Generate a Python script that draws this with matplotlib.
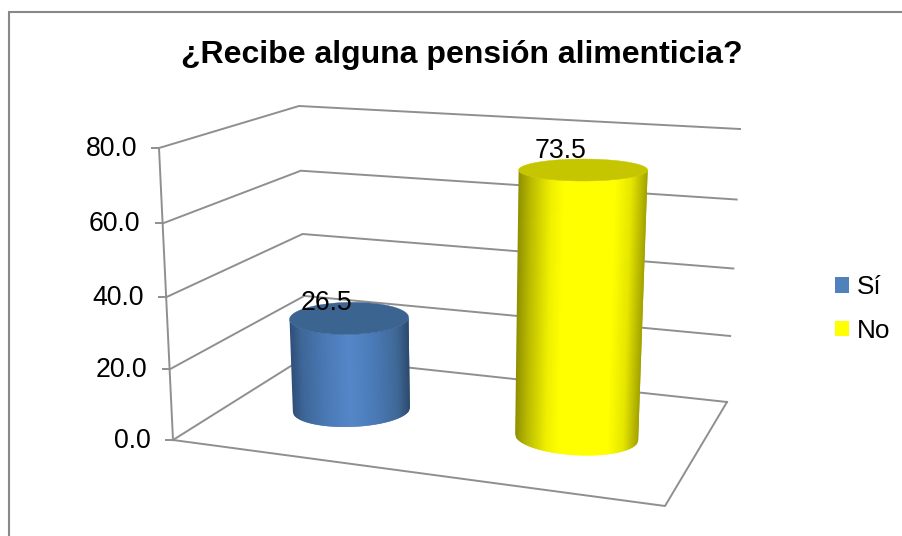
import numpy as np
import matplotlib
matplotlib.use("Agg")
import matplotlib.pyplot as plt
from matplotlib.collections import PolyCollection
from matplotlib.colors import to_rgb
from matplotlib.patches import Patch, Polygon

# ---- data ----
title = "¿Recibe alguna pensión alimenticia?"
categories = ["Sí", "No"]
values = [26.5, 73.5]
value_ticks = [0, 20, 40, 60, 80]
tick_labels = ["0.0", "20.0", "40.0", "60.0", "80.0"]

# ---- style ----
plt.rcParams["font.family"] = ["Liberation Sans", "DejaVu Sans"]
GRID = "#8f8f8f"
LEGEND_COLORS = ["#4f81bd", "#ffff00"]
TOP_COLORS = ["#3c6491", "#c6c600"]
SHADE_Q = [[-1, -0.8, -0.4, 0.0, 0.4, 0.8, 1],
           [-1, -0.8, -0.5, -0.3, 0.5, 0.75, 1]]
SHADES = [["#2f4f78", "#3e6799", "#4a7ab6", "#5587c8", "#4a7bb7", "#3f6897", "#2d4a6c"],
          ["#8f8f00", "#bcbc00", "#efef00", "#ffff00", "#ffff00", "#e6e600", "#a2a200"]]

# ---- projection of the 3D plot box onto the page (pixels) ----
FL0, FR0, BR0, BL0 = map(np.array, ([173, 440], [665, 506], [727, 402], [306, 356.5]))
FL_T, BR_T, BL_T = map(np.array, ([159, 148], [740, 129], [299, 106]))
VMAX = value_ticks[-1]
PERSP = 1.045


def vscale(v):
    t = v / VMAX
    return t / (t + (1 - t) * PERSP)


def edge(bottom, top, v):
    return bottom + (top - bottom) * vscale(v)


def floor(u, d):
    left = FL0 + (BL0 - FL0) * d
    right = FR0 + (BR0 - FR0) * d
    return left + (right - left) * u


fig = plt.figure(figsize=(9.03, 5.36), dpi=100)
ax = fig.add_axes([0, 0, 1, 1])
ax.set_xlim(0, 903)
ax.set_ylim(536, 0)
ax.axis("off")

# outer chart frame
ax.plot([9.5, 9.5, 903], [536, 12, 12], color="#888888", lw=1.5, zorder=1,
        solid_joinstyle="miter")

ax.text(461.5, 55, title, ha="center", va="center", fontsize=23,
        fontweight="bold", color="black")

# walls, gridlines, floor
for v, lab in zip(value_ticks, tick_labels):
    a, b, c = edge(FL0, FL_T, v), edge(BL0, BL_T, v), edge(BR0, BR_T, v)
    ax.plot([a[0], b[0], c[0]], [a[1], b[1], c[1]], color=GRID, lw=1.4, zorder=2)
    ax.plot([a[0] - 7, a[0]], [a[1], a[1]], color=GRID, lw=1.4, zorder=2)
    ax.text(a[0] - 22, a[1] + 1, lab, ha="right", va="center", fontsize=19.2,
            color="black", zorder=6)
ax.plot([FL0[0], FL_T[0]], [FL0[1], FL_T[1]], color=GRID, lw=1.4, zorder=2)
ax.plot([FL0[0], FR0[0], BR0[0]], [FL0[1], FR0[1], BR0[1]], color=GRID, lw=1.4, zorder=2)

# cylinders
bar_u = [0.24, 0.735]
bar_d = 0.52
top_a, base_a = [59.5, 64.5], [58.5, 61.5]
top_b, base_b = [16, 11], [17, 18]
top_tilt, base_tilt = [-1, 0], [-2, 3]
label_dx, label_dy = [-23, -23], [-15, -19]
thetas = np.arccos(np.linspace(-1, 1, 130))

for i, v in enumerate(values):
    base = floor(bar_u[i], bar_d)
    s = vscale(v)
    height = 284.5 + (bar_u[i] - 0.24) * 15
    lean = (bar_u[i] - 0.49) * 29
    top = base + np.array([lean * s, -height * s])

    def ring(c, a, b, tilt, th):
        return np.column_stack([c[0] + a * np.cos(th),
                                c[1] + b * np.sin(th) + tilt * np.cos(th)])

    tp = ring(top, top_a[i], top_b[i], top_tilt[i], thetas)
    bt = ring(base, base_a[i], base_b[i], base_tilt[i], thetas)
    polys, cols = [], []
    rgb = np.array([to_rgb(c) for c in SHADES[i]])
    # each band overlaps the next two, which hides seams and keeps the outline smooth
    for k in range(len(thetas) - 1):
        end = min(k + 3, len(thetas))
        polys.append(np.vstack([tp[k:end], bt[k:end][::-1]]))
        q = np.cos((thetas[k] + thetas[k + 1]) / 2)
        cols.append([np.interp(q, SHADE_Q[i], rgb[:, j]) for j in range(3)])
    body = PolyCollection(polys, facecolors=cols, edgecolors="none", zorder=3)
    body.set_snap(False)
    ax.add_collection(body)
    full = np.linspace(0, 2 * np.pi, 181)
    ax.add_patch(Polygon(ring(top, top_a[i], top_b[i], top_tilt[i], full), closed=True,
                         facecolor=TOP_COLORS[i], edgecolor=TOP_COLORS[i], lw=0.3, zorder=4))
    ax.text(top[0] + label_dx[i], top[1] + label_dy[i], f"{v:.1f}", ha="center",
            va="center", fontsize=19.2, color="black", zorder=6)

# legend
handles = [Patch(facecolor=c, edgecolor="none") for c in LEGEND_COLORS]
ax.legend(handles, categories, loc="upper left", bbox_to_anchor=(835 / 903, 1 - 275 / 536),
          frameon=False, fontsize=18.8, borderpad=0, borderaxespad=0, handlelength=0.55,
          handleheight=0.55, handletextpad=0.27, labelspacing=0.76)

fig.savefig("out.png", dpi=100)
